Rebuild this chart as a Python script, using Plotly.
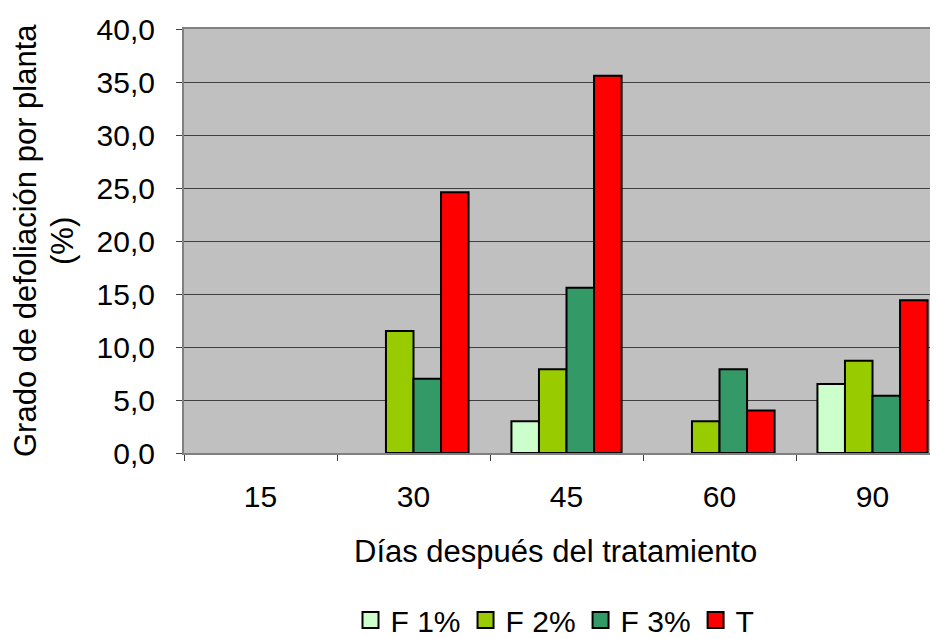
import plotly.graph_objects as go

categories = ["15", "30", "45", "60", "90"]
f1 = [None, None, 3.0, None, 6.5]
f2 = [None, 11.5, 7.9, 3.0, 8.7]
f3 = [None, 7.0, 15.6, 7.9, 5.4]
t = [None, 24.6, 35.6, 4.0, 14.4]
series_names = ["F 1%", "F 2%", "F 3%", "T"]
colors = ["#CCFFCC", "#99CC00", "#339966", "#FF0000"]

fig = go.Figure()
for name, vals, col in zip(series_names, [f1, f2, f3, t], colors):
    fig.add_trace(go.Bar(
        x=categories, y=vals, name=name, showlegend=False, legendgroup=name,
        marker=dict(color=col, line=dict(color="black", width=2)),
    ))
# legend swatches (larger square boxes like the original)
for name, col in zip(series_names, colors):
    fig.add_trace(go.Scatter(
        x=[None], y=[None], mode="markers", name=name, legendgroup=name,
        marker=dict(symbol="square", size=19, color=col,
                    line=dict(color="black", width=2)),
    ))

FONT = "Liberation Sans, Arial, sans-serif"
W, H = 930, 631  # page body adds an 8px margin
fig.update_layout(
    width=W, height=H,
    margin=dict(l=176, r=0, t=21, b=186),
    paper_bgcolor="white",
    plot_bgcolor="#C0C0C0",
    barmode="group",
    bargap=0.28,
    bargroupgap=0,
    separators=",.",
    font=dict(family=FONT, size=30, color="black"),
    showlegend=True,
    legend=dict(
        orientation="h", xref="container", yref="container",
        x=547 / W, y=1 - 612 / H, xanchor="center", yanchor="middle",
        font=dict(size=30), itemwidth=30, tracegroupgap=0,
        bgcolor="rgba(0,0,0,0)", borderwidth=0,
    ),
    xaxis=dict(
        type="category",
        range=[-0.5, 4.428],
        showline=True, linecolor="#808080", linewidth=2, mirror=True,
        ticks="outside", tickson="boundaries", ticklen=6, tickcolor="#404040",
        ticklabelstandoff=16,
        showgrid=False,
        tickfont=dict(size=30),
    ),
    yaxis=dict(
        range=[0, 40], dtick=5, tickformat=".1f",
        showgrid=True, gridcolor="#404040", gridwidth=1,
        zeroline=True, zerolinecolor="#404040", zerolinewidth=1,
        showline=True, linecolor="#808080", linewidth=2,
        ticks="outside", ticklen=6, tickcolor="#404040",
        ticklabelstandoff=15,
        tickfont=dict(size=30),
    ),
    annotations=[
        dict(text="Grado de defoliación por planta", textangle=-90,
             xref="paper", yref="paper", x=(25 - 184) / 754, y=0.5,
             xanchor="center", yanchor="middle", showarrow=False,
             font=dict(size=31)),
        dict(text="(%)", textangle=-90,
             xref="paper", yref="paper", x=(62 - 184) / 754, y=0.5,
             xanchor="center", yanchor="middle", showarrow=False,
             font=dict(size=31)),
        dict(text="Días después del tratamiento",
             xref="paper", yref="paper", x=(555 - 184) / 754, y=(453 - 551) / 424,
             xanchor="center", yanchor="middle", showarrow=False,
             font=dict(size=31)),
    ],
)

fig.write_html("out.html")
